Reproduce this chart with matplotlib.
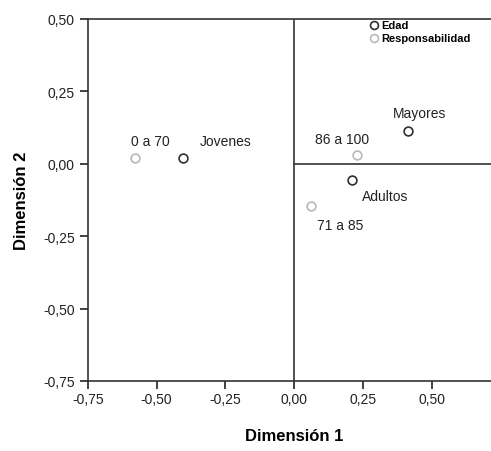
import matplotlib.pyplot as plt
from matplotlib.ticker import FuncFormatter

plt.rcParams['font.family'] = ['Liberation Sans Narrow', 'Liberation Sans', 'DejaVu Sans']

# Edad (age groups)
edad_labels = ["Jovenes", "Adultos", "Mayores"]
edad_x = [-0.405, 0.21, 0.415]
edad_y = [0.02, -0.055, 0.114]

# Responsabilidad (score ranges)
resp_labels = ["0 a 70", "71 a 85", "86 a 100"]
resp_x = [-0.579, 0.062, 0.229]
resp_y = [0.02, -0.145, 0.03]

ticks = [-0.75, -0.50, -0.25, 0.00, 0.25, 0.50]

fig = plt.figure(figsize=(4.91, 4.52), dpi=100)
ax = fig.add_axes([0.179, 0.155, 0.84, 0.801])

ax.axvline(0, color="#333333", lw=1.2, zorder=1)
ax.plot([0, 0.75], [0, 0], color="#333333", lw=1.2, zorder=1)

ax.scatter(edad_x, edad_y, s=40, facecolors="white", edgecolors="#303030",
           linewidths=1.2, label="Edad", zorder=3)
ax.scatter(resp_x, resp_y, s=40, facecolors="white", edgecolors="#b8b8b8",
           linewidths=1.2, label="Responsabilidad", zorder=3)

# label offsets in points
edad_off = {"Jovenes": (12, 9), "Adultos": (7, -15), "Mayores": (-11, 10)}
resp_off = {"0 a 70": (-3, 9), "71 a 85": (4, -17), "86 a 100": (-30, 9)}
for lab, x, y in zip(edad_labels, edad_x, edad_y):
    ax.annotate(lab, (x, y), xytext=edad_off[lab], textcoords="offset points",
                fontsize=10, color="#222222")
for lab, x, y in zip(resp_labels, resp_x, resp_y):
    ax.annotate(lab, (x, y), xytext=resp_off[lab], textcoords="offset points",
                fontsize=10, color="#222222")

ax.set_xlim(-0.75, 0.75)
ax.set_ylim(-0.75, 0.50)
ax.set_xticks(ticks)
ax.set_yticks(ticks)
fmt = FuncFormatter(lambda v, p: f"{v:.2f}".replace(".", ","))
ax.xaxis.set_major_formatter(fmt)
ax.yaxis.set_major_formatter(fmt)
ax.tick_params(direction="out", length=6, width=1.2, labelsize=10, colors="#222222")
ax.tick_params(axis="x", pad=2)
for s in ax.spines.values():
    s.set_linewidth(1.2)
    s.set_color("#333333")

ax.set_xlabel("Dimensión 1", fontsize=12, fontweight="bold", labelpad=16)
ax.set_ylabel("Dimensión 2", fontsize=12, fontweight="bold", labelpad=10)

fig.legend(loc="upper left", bbox_to_anchor=(0.74, 0.965), frameon=False,
           prop={"size": 8, "weight": "bold"}, handletextpad=0.1,
           labelspacing=0.2, borderpad=0, handlelength=1, markerscale=0.9)

fig.savefig("out.png", dpi=100, facecolor="white")
